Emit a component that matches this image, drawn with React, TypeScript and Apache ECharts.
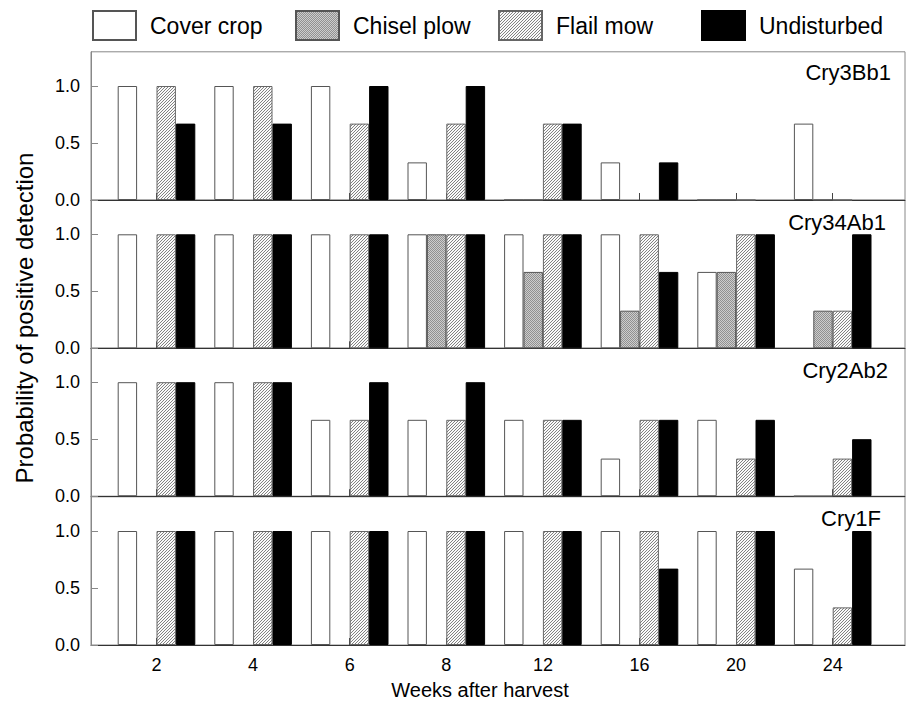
import React, { useEffect, useRef } from "react";
import * as echarts from "echarts";

const weeks = ["2", "4", "6", "8", "12", "16", "20", "24"];
const panelNames = ["Cry3Bb1", "Cry34Ab1", "Cry2Ab2", "Cry1F"];
const treatments = ["Cover crop", "Chisel plow", "Flail mow", "Undisturbed"];

const cry3Bb1Cover = [1, 1, 1, 0.33, 0, 0.33, 0, 0.67];
const cry3Bb1Chisel = [null, null, null, null, 0, null, 0, 0];
const cry3Bb1Flail = [1, 1, 0.67, 0.67, 0.67, null, 0, 0];
const cry3Bb1Undisturbed = [0.67, 0.67, 1, 1, 0.67, 0.33, null, null];

const cry34Ab1Cover = [1, 1, 1, 1, 1, 1, 0.67, null];
const cry34Ab1Chisel = [null, null, null, 1, 0.67, 0.33, 0.67, 0.33];
const cry34Ab1Flail = [1, 1, 1, 1, 1, 1, 1, 0.33];
const cry34Ab1Undisturbed = [1, 1, 1, 1, 1, 0.67, 1, 1];

const cry2Ab2Cover = [1, 1, 0.67, 0.67, 0.67, 0.33, 0.67, 0];
const cry2Ab2Chisel = [null, null, null, null, null, null, null, 0];
const cry2Ab2Flail = [1, 1, 0.67, 0.67, 0.67, 0.67, 0.33, 0.33];
const cry2Ab2Undisturbed = [1, 1, 1, 1, 0.67, 0.67, 0.67, 0.5];

const cry1FCover = [1, 1, 1, 1, 1, 1, 1, 0.67];
const cry1FChisel = [null, null, null, null, null, null, null, null];
const cry1FFlail = [1, 1, 1, 1, 1, 1, 1, 0.33];
const cry1FUndisturbed = [1, 1, 1, 1, 1, 0.67, 1, 1];

const panelData = [
  [cry3Bb1Cover, cry3Bb1Chisel, cry3Bb1Flail, cry3Bb1Undisturbed],
  [cry34Ab1Cover, cry34Ab1Chisel, cry34Ab1Flail, cry34Ab1Undisturbed],
  [cry2Ab2Cover, cry2Ab2Chisel, cry2Ab2Flail, cry2Ab2Undisturbed],
  [cry1FCover, cry1FChisel, cry1FFlail, cry1FUndisturbed],
];

const FONT = '"Liberation Sans", Arial, Helvetica, sans-serif';

function makePattern(kind: string): string {
  const n = kind === "flail" ? 3 : 2;
  const c = document.createElement("canvas");
  c.width = n;
  c.height = n;
  const ctx = c.getContext("2d")!;
  const img = ctx.createImageData(n, n);
  for (let y = 0; y < n; y++) {
    for (let x = 0; x < n; x++) {
      let v = 255;
      if (kind === "flail") v = (x + y) % 3 === 2 ? 130 : 250;
      else v = (x + y) % 2 === 0 ? 145 : 205;
      const i = (y * n + x) * 4;
      img.data[i] = v;
      img.data[i + 1] = v;
      img.data[i + 2] = v;
      img.data[i + 3] = 255;
    }
  }
  ctx.putImageData(img, 0, 0);
  return c.toDataURL();
}

export default function App() {
  const ref = useRef<HTMLDivElement>(null);
  useEffect(() => {
    if (!ref.current) return;
    const chart = echarts.init(ref.current, null, { renderer: "svg" });
    const flailPat = { image: makePattern("flail"), repeat: "repeat", imageWidth: 3, imageHeight: 3 };
    const chiselPat = { image: makePattern("chisel"), repeat: "repeat", imageWidth: 2, imageHeight: 2 };
    const styles = [
      { color: "#ffffff", borderColor: "#555", borderWidth: 1 },
      { color: chiselPat, borderColor: "#555", borderWidth: 1 },
      { color: flailPat, borderColor: "#666", borderWidth: 1 },
      { color: "#000000", borderColor: "#000", borderWidth: 1 },
    ];
    const tops = [51.8, 200.1, 348, 496.8];
    const h = 148.2;
    const grids: any[] = [];
    const xAxes: any[] = [];
    const yAxes: any[] = [];
    const series: any[] = [];
    tops.forEach((t, i) => {
      grids.push({
        left: 91, width: 814, top: t, height: h,
        show: true, borderColor: "#888", borderWidth: 1, backgroundColor: "transparent",
      });
      xAxes.push({
        type: "value", gridIndex: i, min: 0, max: 1,
        axisLine: { show: true, lineStyle: { color: "#333", width: 1 } },
        axisTick: { show: false }, axisLabel: { show: false }, splitLine: { show: false },
      });
      yAxes.push({
        type: "value", gridIndex: i, min: 0, max: 1.3, interval: 0.5,
        axisLine: { show: true, lineStyle: { color: "#888" } },
        axisTick: { show: true, inside: true, length: 7, lineStyle: { color: "#888" } },
        axisLabel: {
          show: true, showMaxLabel: false, margin: 11, fontSize: 18, color: "#000", fontFamily: FONT,
          formatter: (v: number) => v.toFixed(1),
        },
        splitLine: { show: false },
      });
    });
    tops.forEach((t, i) => {
      grids.push({ left: 108.2, width: 772.8, top: t, height: h });
      xAxes.push({
        type: "category", gridIndex: 4 + i, data: weeks,
        axisLine: { show: false },
        axisTick: { show: true, inside: true, alignWithLabel: true, length: 7, lineStyle: { color: "#444" } },
        axisLabel: { show: i === 3, fontSize: 18, margin: 11, color: "#000", fontFamily: FONT },
        splitLine: { show: false },
      });
      yAxes.push({ type: "value", gridIndex: 4 + i, min: 0, max: 1.3, show: false });
      treatments.forEach((name, k) => {
        series.push({
          type: "bar", name, xAxisIndex: 4 + i, yAxisIndex: 4 + i,
          data: panelData[i][k], barWidth: 19.4, barGap: "0%",
          itemStyle: styles[k],
        });
      });
    });
    const legendLefts = [92, 295, 498, 701];
    const legends = treatments.map((n, i) => ({
      data: [n], left: legendLefts[i], top: 10, itemWidth: 43, itemHeight: 29, icon: "rect",
      padding: 0, selectedMode: false,
      textStyle: { fontSize: 23, color: "#000", fontFamily: FONT, padding: [0, 0, 0, 9] },
    }));
    const labelX = [891, 886, 888, 881];
    const labelY = [72, 222, 370, 518];
    const graphics: any[] = panelNames.map((n, i) => ({
      type: "text", x: labelX[i], y: labelY[i],
      style: { text: n, fill: "#000", font: `22px ${FONT}`, textAlign: "right", textVerticalAlign: "middle" },
    }));
    graphics.push({
      type: "text", x: 24, y: 318, rotation: Math.PI / 2,
      style: { text: "Probability of positive detection", fill: "#000", font: `24px ${FONT}`, textAlign: "center", textVerticalAlign: "middle" },
    });
    graphics.push({
      type: "text", x: 480, y: 690,
      style: { text: "Weeks after harvest", fill: "#000", font: `20px ${FONT}`, textAlign: "center", textVerticalAlign: "middle" },
    });
    chart.setOption({
      animation: false,
      backgroundColor: "#fff",
      grid: grids,
      xAxis: xAxes,
      yAxis: yAxes,
      series,
      legend: legends,
      graphic: graphics,
    });
    return () => chart.dispose();
  }, []);
  return <div ref={ref} style={{ width: 906, height: 704, position: "absolute", left: 0, top: 0 }} />;
}
